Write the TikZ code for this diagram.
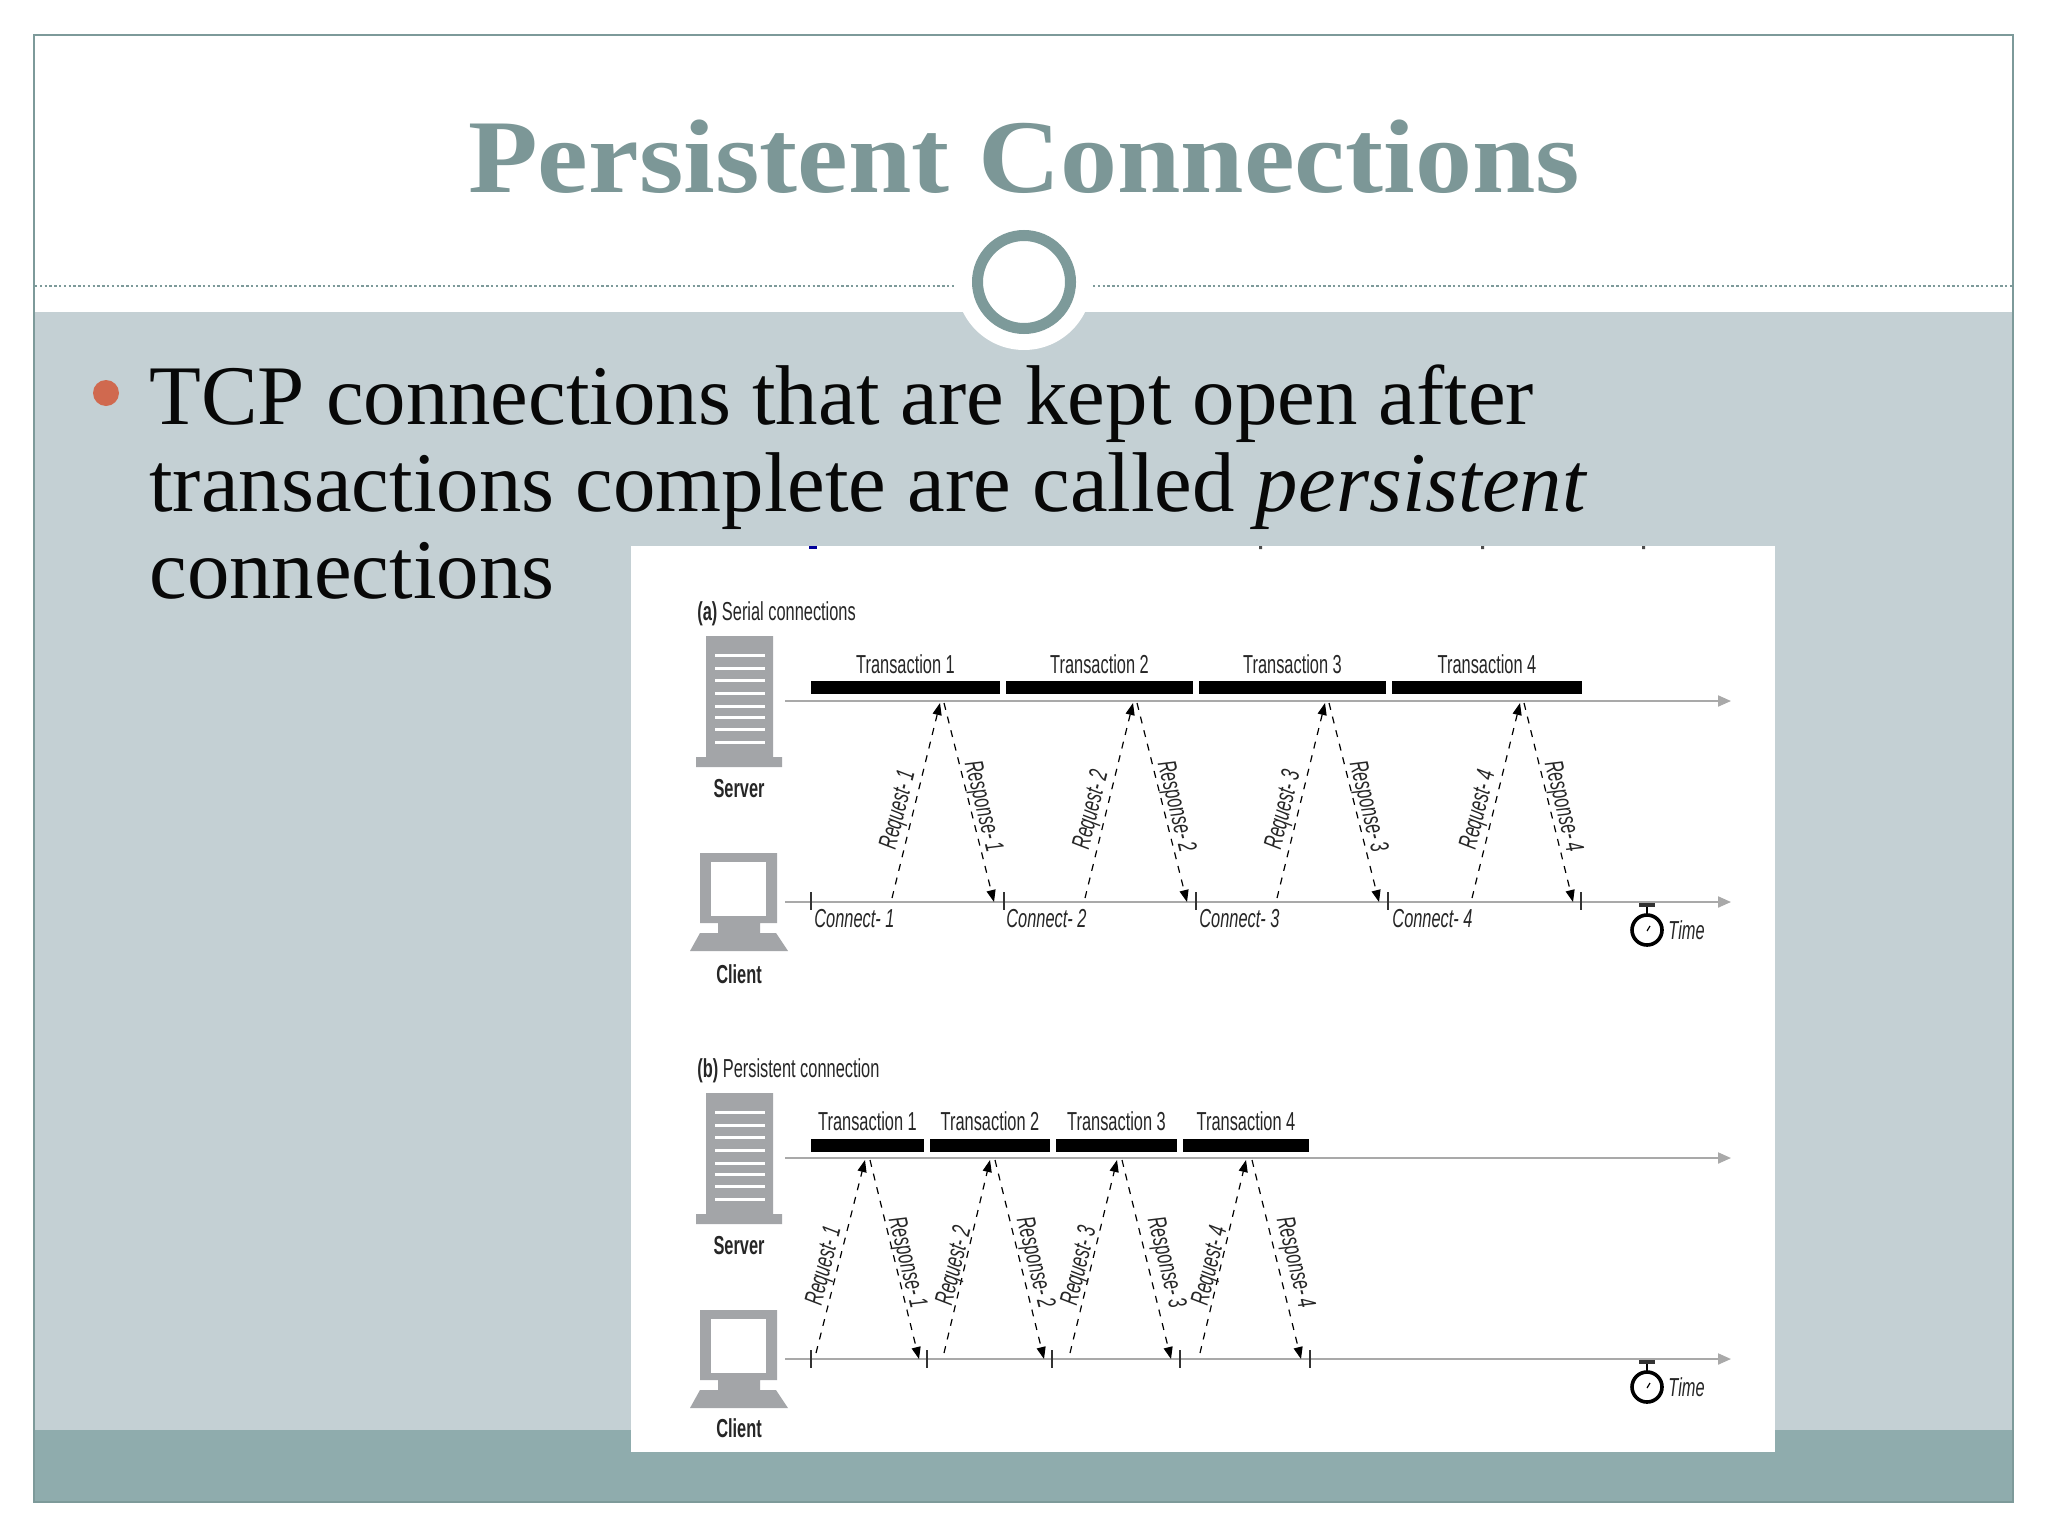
\documentclass[tikz,border=0pt]{standalone}
\usepackage{fontspec}
\usetikzlibrary{arrows.meta}
\setmainfont{Liberation Serif}
\newfontfamily\figfont[FakeStretch=0.63]{Liberation Sans}
\newfontfamily\titlefont[FakeStretch=1.09]{Liberation Serif}

\definecolor{title-color}{HTML}{7C9797}
\definecolor{ring-color}{HTML}{7D9A9A}
\definecolor{band-color}{HTML}{C4D0D4}
\definecolor{foot-color}{HTML}{8FACAD}
\definecolor{bullet-color}{HTML}{D0694F}
\definecolor{icon-color}{HTML}{A3A5A8}
\definecolor{axis-color}{HTML}{A9A9A9}

\begin{document}
\begin{tikzpicture}[
x=0.5pt, y=-0.5pt,
fig-text/.style={font=\figfont\fontsize{13}{13}\selectfont, text=black!85},
bar/.style={rectangle, fill=black, inner sep=0pt, minimum height=6.5pt},
tick/.style={rectangle, fill=black!80, inner sep=0pt, minimum width=0.8pt, minimum height=9pt},
axis/.style={axis-color, line width=1pt, -{Triangle[length=6.5pt,width=5.5pt]}},
msg/.style={black, line width=0.6pt, dash pattern=on 3.5pt off 3.5pt, -{Triangle[length=6pt,width=4.5pt]}},
server-icon/.pic={
    \fill[icon-color] (-33,-65) rectangle (34,56) (-43,56) rectangle (43,66);
    \draw[white, line width=1.5pt] (-24,-46) -- (26,-46) (-24,-33) -- (26,-33) (-24,-21) -- (26,-21) (-24,-8) -- (26,-8)
        (-24,5) -- (26,5) (-24,16) -- (26,16) (-24,28) -- (26,28) (-24,41) -- (26,41);
},
client-icon/.pic={
    \fill[icon-color] (-39,-49) rectangle (38,21) (-21,21) rectangle (21,31);
    \fill[icon-color] (-39,31) -- (37,31) -- (49,49) -- (-49,49) -- cycle;
    \fill[white] (-28,-40) rectangle (27,14);
},
stopwatch/.pic={
    \draw[black, line width=1.8pt] (0,0) circle (7.5pt);
    \draw[black, line width=1pt] (0,-15) -- (0,-24);
    \fill[black!80] (-8,-27) rectangle (8,-23);
    \draw[black, line width=0.6pt] (0,1) -- (3,-4);
}]
\tikzstyle{every label}=[fig-text]

\useasboundingbox (0,0) rectangle (2048,1536);
\fill[white] (0,0) rectangle (2048,1536);

% slide
\fill[band-color] (34,312) rectangle (2013,1430);
\fill[foot-color] (34,1430) rectangle (2013,1502);
\draw[ring-color, line width=0.8pt] (34,35) rectangle (2013,1502);
\coordinate (rule-1) at (35,286);
\coordinate (rule-2) at (955,286);
\coordinate (rule-3) at (1093,286);
\coordinate (rule-4) at (2012,286);
\draw[ring-color, line width=1pt, dash pattern=on 1.2pt off 1.2pt] (rule-1) -- (rule-2) (rule-3) -- (rule-4);
\node (halo) [circle, fill=white, inner sep=0pt, minimum size=68pt] at (1024,282) {};
\node (ring) [circle, draw=ring-color, fill=white, line width=5.5pt, inner sep=0pt, minimum size=46.5pt] at (1024,282) {};
\node (title) [anchor=base, inner sep=0pt, text=title-color, font=\titlefont\bfseries\fontsize{52.3}{52.3}\selectfont] at (1024,192) {Persistent Connections};
\node (bullet) [circle, fill=bullet-color, inner sep=0pt, minimum size=13pt] at (106,393) {};
\node (body) [anchor=north west, inner sep=0pt, align=left, text=black!97, font=\fontsize{42.4}{43.5}\selectfont] at (149,364)
    {TCP connections that are kept open after\\transactions complete are called \textit{persistent}\\connections};

% figure
\fill[white] (631,546) rectangle (1775,1452);
\fill[blue!60!black] (809,546) rectangle (817,549);
\fill[black!70] (1259,546) rectangle (1262,549) (1481,546) rectangle (1484,549) (1642,546) rectangle (1645,549);

% (a) serial
\node (a-head) [fig-text, anchor=base west, inner sep=0pt] at (697,620) {\textbf{(a)} Serial connections};
\pic at (739,701) {server-icon};
\pic at (739,902) {client-icon};
\node (a-server) [fig-text, anchor=base, inner sep=0pt] at (739,797) {\textbf{Server}};
\node (a-client) [fig-text, anchor=base, inner sep=0pt] at (739,983) {\textbf{Client}};
\coordinate (a-srv-s) at (785,701);
\coordinate (a-srv-e) at (1731,701);
\coordinate (a-cli-s) at (785,902);
\coordinate (a-cli-e) at (1731,902);
\draw[axis] (a-srv-s) -- (a-srv-e);
\draw[axis] (a-cli-s) -- (a-cli-e);
\node (a-bar-1) [bar, minimum width=94.5pt, label={above:Transaction 1}] at (905.5,687.5) {};
\node (a-bar-2) [bar, minimum width=93.5pt, label={above:Transaction 2}] at (1099.5,687.5) {};
\node (a-bar-3) [bar, minimum width=93.5pt, label={above:Transaction 3}] at (1292.5,687.5) {};
\node (a-bar-4) [bar, minimum width=95pt, label={above:Transaction 4}] at (1487,687.5) {};
\node (a-tick-1) [tick] at (811,901) {};
\node (a-tick-2) [tick] at (1004,901) {};
\node (a-tick-3) [tick] at (1196,901) {};
\node (a-tick-4) [tick] at (1388,901) {};
\node (a-tick-5) [tick] at (1581,901) {};
\node (a-conn-1) [fig-text, anchor=base west, inner sep=0pt] at (814,927) {\textit{Connect- 1}};
\node (a-conn-2) [fig-text, anchor=base west, inner sep=0pt] at (1006,927) {\textit{Connect- 2}};
\node (a-conn-3) [fig-text, anchor=base west, inner sep=0pt] at (1199,927) {\textit{Connect- 3}};
\node (a-conn-4) [fig-text, anchor=base west, inner sep=0pt] at (1392,927) {\textit{Connect- 4}};
%
\coordinate (a-req-1-s) at (892,898);
\coordinate (a-req-1-e) at (940,703);
\coordinate (a-res-1-s) at (944,703);
\coordinate (a-res-1-e) at (994,902);
\coordinate (a-req-2-s) at (1085,898);
\coordinate (a-req-2-e) at (1133,703);
\coordinate (a-res-2-s) at (1137,703);
\coordinate (a-res-2-e) at (1187,902);
\coordinate (a-req-3-s) at (1277,898);
\coordinate (a-req-3-e) at (1325,703);
\coordinate (a-res-3-s) at (1329,703);
\coordinate (a-res-3-e) at (1379,902);
\coordinate (a-req-4-s) at (1472,898);
\coordinate (a-req-4-e) at (1520,703);
\coordinate (a-res-4-s) at (1524,703);
\coordinate (a-res-4-e) at (1573,902);
\draw[msg] (a-req-1-s) -- (a-req-1-e);
\draw[msg] (a-res-1-s) -- (a-res-1-e);
\draw[msg] (a-req-2-s) -- (a-req-2-e);
\draw[msg] (a-res-2-s) -- (a-res-2-e);
\draw[msg] (a-req-3-s) -- (a-req-3-e);
\draw[msg] (a-res-3-s) -- (a-res-3-e);
\draw[msg] (a-req-4-s) -- (a-req-4-e);
\draw[msg] (a-res-4-s) -- (a-res-4-e);
\node (a-req-lab-1) [fig-text, rotate=76, inner sep=0pt] at (899,810) {\textit{Request- 1}};
\node (a-res-lab-1) [fig-text, rotate=-76, inner sep=0pt] at (982,807) {\textit{Response- 1}};
\node (a-req-lab-2) [fig-text, rotate=76, inner sep=0pt] at (1092,810) {\textit{Request- 2}};
\node (a-res-lab-2) [fig-text, rotate=-76, inner sep=0pt] at (1175,807) {\textit{Response- 2}};
\node (a-req-lab-3) [fig-text, rotate=76, inner sep=0pt] at (1284,810) {\textit{Request- 3}};
\node (a-res-lab-3) [fig-text, rotate=-76, inner sep=0pt] at (1367,807) {\textit{Response- 3}};
\node (a-req-lab-4) [fig-text, rotate=76, inner sep=0pt] at (1479,810) {\textit{Request- 4}};
\node (a-res-lab-4) [fig-text, rotate=-76, inner sep=0pt] at (1562,807) {\textit{Response- 4}};
\pic at (1647,930) {stopwatch};
\node (a-time) [fig-text, anchor=base west, inner sep=0pt] at (1668,939) {\textit{Time}};

% (b) persistent
\node (b-head) [fig-text, anchor=base west, inner sep=0pt] at (697,1077) {\textbf{(b)} Persistent connection};
\pic at (739,1158) {server-icon};
\pic at (739,1359) {client-icon};
\node (b-server) [fig-text, anchor=base, inner sep=0pt] at (739,1254) {\textbf{Server}};
\node (b-client) [fig-text, anchor=base, inner sep=0pt] at (739,1437) {\textbf{Client}};
\coordinate (b-srv-s) at (785,1158);
\coordinate (b-srv-e) at (1731,1158);
\coordinate (b-cli-s) at (785,1359);
\coordinate (b-cli-e) at (1731,1359);
\draw[axis] (b-srv-s) -- (b-srv-e);
\draw[axis] (b-cli-s) -- (b-cli-e);
\node (b-bar-1) [bar, minimum width=56.5pt, label={above:Transaction 1}] at (867.5,1145) {};
\node (b-bar-2) [bar, minimum width=60pt, label={above:Transaction 2}] at (990,1145) {};
\node (b-bar-3) [bar, minimum width=60.5pt, label={above:Transaction 3}] at (1116.5,1145) {};
\node (b-bar-4) [bar, minimum width=63pt, label={above:Transaction 4}] at (1246,1145) {};
\node (b-tick-1) [tick] at (811,1359) {};
\node (b-tick-2) [tick] at (927,1359) {};
\node (b-tick-3) [tick] at (1052,1359) {};
\node (b-tick-4) [tick] at (1180,1359) {};
\node (b-tick-5) [tick] at (1310,1359) {};
%
\coordinate (b-req-1-s) at (816,1353);
\coordinate (b-req-1-e) at (865,1160);
\coordinate (b-res-1-s) at (870,1160);
\coordinate (b-res-1-e) at (919,1359);
\coordinate (b-req-2-s) at (944,1353);
\coordinate (b-req-2-e) at (990,1160);
\coordinate (b-res-2-s) at (995,1160);
\coordinate (b-res-2-e) at (1044,1359);
\coordinate (b-req-3-s) at (1070,1353);
\coordinate (b-req-3-e) at (1117,1160);
\coordinate (b-res-3-s) at (1122,1160);
\coordinate (b-res-3-e) at (1171,1359);
\coordinate (b-req-4-s) at (1200,1353);
\coordinate (b-req-4-e) at (1246,1160);
\coordinate (b-res-4-s) at (1252,1160);
\coordinate (b-res-4-e) at (1301,1359);
\draw[msg] (b-req-1-s) -- (b-req-1-e);
\draw[msg] (b-res-1-s) -- (b-res-1-e);
\draw[msg] (b-req-2-s) -- (b-req-2-e);
\draw[msg] (b-res-2-s) -- (b-res-2-e);
\draw[msg] (b-req-3-s) -- (b-req-3-e);
\draw[msg] (b-res-3-s) -- (b-res-3-e);
\draw[msg] (b-req-4-s) -- (b-req-4-e);
\draw[msg] (b-res-4-s) -- (b-res-4-e);
\node (b-req-lab-1) [fig-text, rotate=76, inner sep=0pt] at (825,1266) {\textit{Request- 1}};
\node (b-res-lab-1) [fig-text, rotate=-76, inner sep=0pt] at (906,1263) {\textit{Response- 1}};
\node (b-req-lab-2) [fig-text, rotate=76, inner sep=0pt] at (955,1266) {\textit{Request- 2}};
\node (b-res-lab-2) [fig-text, rotate=-76, inner sep=0pt] at (1034,1263) {\textit{Response- 2}};
\node (b-req-lab-3) [fig-text, rotate=76, inner sep=0pt] at (1080,1266) {\textit{Request- 3}};
\node (b-res-lab-3) [fig-text, rotate=-76, inner sep=0pt] at (1165,1263) {\textit{Response- 3}};
\node (b-req-lab-4) [fig-text, rotate=76, inner sep=0pt] at (1211,1266) {\textit{Request- 4}};
\node (b-res-lab-4) [fig-text, rotate=-76, inner sep=0pt] at (1294,1263) {\textit{Response- 4}};
\pic at (1647,1387) {stopwatch};
\node (b-time) [fig-text, anchor=base west, inner sep=0pt] at (1668,1396) {\textit{Time}};

\end{tikzpicture}
\end{document}
